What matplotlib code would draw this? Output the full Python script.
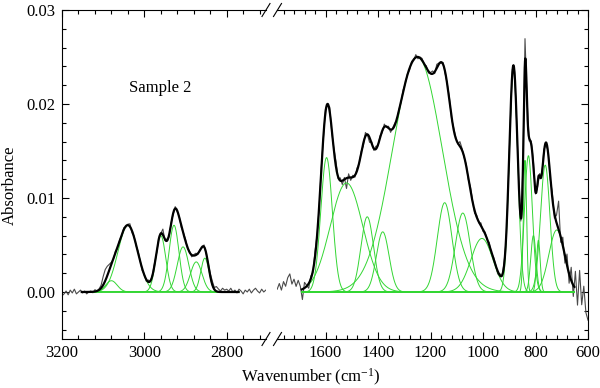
import numpy as np
import matplotlib
matplotlib.use("Agg")
import matplotlib.pyplot as plt
from matplotlib.ticker import MultipleLocator, FormatStrFormatter
from matplotlib.lines import Line2D

plt.rcParams['font.family'] = 'serif'
plt.rcParams['font.serif'] = ['Liberation Serif', 'DejaVu Serif']
plt.rcParams['mathtext.fontset'] = 'custom'
plt.rcParams['mathtext.rm'] = 'Liberation Serif'
plt.rcParams['mathtext.it'] = 'Liberation Serif:italic'

# fitted gaussian bands (centre cm-1, height, sigma cm-1)
ch_center = [3080, 3040, 2960, 2928, 2906, 2874, 2853]
ch_height = [0.0012, 0.0071, 0.0060, 0.0071, 0.0048, 0.0032, 0.0036]
ch_sigma = [14, 24, 12, 12, 14, 14, 10]

fp_center = [1596, 1520, 1441, 1382, 1250, 1146, 1077, 1004,
             884, 840, 827, 808, 789, 763, 719]
fp_height = [0.0143, 0.0116, 0.0080, 0.0064, 0.0250, 0.0095, 0.0084, 0.0057,
             0.0240, 0.0140, 0.0145, 0.0060, 0.0055, 0.0135, 0.0066]
fp_sigma = [22, 62, 24, 24, 95, 28, 28, 42, 16, 6, 15, 10, 7, 18, 30]

ch_range = (3152, 2771)
fp_range = (1690, 652)

ch_step = 5    # 3200 -> 2705
ch_resid = [-4, -2, 1, -3, 2, -1, 3, -2, 0, 2,
            -1, 1, -2, 0, 1, -1, 2, 0, 1, 3,
            9, 12, 10, 6, 2, -1, 2, -2, 1, -1,
            2, -1, 1, 3, -2, 1, -1, 2, 0, -2,
            1, -2, 2, -1, 1, 2, -2, 1, 0, 6,
            -1, 2, -2, 1, -1, 2, -1, 1, -2, 1,
            2, -1, 1, -2, 1, 2, -1, 1, -1, 2,
            -1, 1, 3, 4, 2, 5, 3, 1, 4, 2,
            3, 1, 4, 0, 2, -1, 3, 1, -2, 2,
            0, 3, -1, 2, 4, 1, -1, 3, 0, 2]
fp_step = 8    # 1784 -> 600
fp_resid = [3, 9, 2, 11, 6, 15, 19, 8, 13, 5,
            11, 4, -11, 6, 1, -5, 3, -2, 6, 1,
            -2, 3, -1, 4, -2, 5, -3, 2, 6, -2,
            3, -4, 2, -11, 4, -3, 2, -2, 3, -1,
            2, -3, 4, -1, -5, 2, -2, 3, -1, 2,
            -2, 3, -1, 2, -3, 1, 2, -2, 1, -1,
            2, -1, 1, -2, 2, -1, 3, -2, 1, 2,
            -1, 2, -2, 1, 3, -2, 4, 1, -1, 2,
            -2, 1, 3, -2, 2, 1, -1, 5, 2, -1,
            2, -2, 4, 1, -3, 2, -1, 3, -2, 2,
            -1, 3, -2, 2, 1, -3, 2, -1, 3, -2,
            1, -2, 3, 2, -1, 2, -3, 1, 24, 4,
            -3, 4, 6, -2, -5, 3, -2, 4, -3, 2,
            -4, 6, -5, 8, 30, -6, 9, -8, 12, -10,
            14, -12, 18, -16, 22, -14, 6, -22, -30]


def band(x, c, h, s):
    return h * np.exp(-(x - c) ** 2 / (2.0 * s ** 2))


def fit_sum(x, cs, hs, ss):
    return sum(band(x, c, h, s) for c, h, s in zip(cs, hs, ss))


green = '#33d633'

fig = plt.figure(figsize=(6, 3.88), dpi=100)
ax1 = fig.add_axes([62 / 600, 49 / 388, 204 / 600, 329 / 388])
ax2 = fig.add_axes([277 / 600, 49 / 388, 311 / 600, 329 / 388])

panels = [
    (ax1, ch_center, ch_height, ch_sigma, ch_range, 3200, ch_step, ch_resid),
    (ax2, fp_center, fp_height, fp_sigma, fp_range, 1784, fp_step, fp_resid),
]
for ax, cs, hs, ss, rng, x0, step, resid in panels:
    xg = x0 - step * np.arange(len(resid))
    meas = fit_sum(xg, cs, hs, ss) + np.array(resid) * 1e-4
    ax.plot(xg, meas, color='#4a4a4a', lw=0.8)
    xf = np.arange(rng[0], rng[1] - 1, -1.0)
    for c, h, s in zip(cs, hs, ss):
        ax.plot(xf, band(xf, c, h, s), color=green, lw=0.7)
    ax.plot(xf, fit_sum(xf, cs, hs, ss), color='black', lw=1.6)

ax1.set_xlim(3200, 2704.5)
ax2.set_xlim(1784.8, 600)
for ax in (ax1, ax2):
    ax.set_ylim(-0.005, 0.03)
    ax.xaxis.set_major_locator(MultipleLocator(200))
    ax.xaxis.set_minor_locator(MultipleLocator(40))
    ax.yaxis.set_major_locator(MultipleLocator(0.01))
    ax.yaxis.set_minor_locator(MultipleLocator(0.002))
    ax.tick_params(which='both', direction='in', top=True, labelsize=12, width=0.8)
    ax.tick_params(which='major', length=5)
    ax.tick_params(which='minor', length=3)
    ax.tick_params(axis='x', pad=4)
    ax.tick_params(axis='y', pad=5)
    for sp in ax.spines.values():
        sp.set_linewidth(0.8)

ax1.spines['right'].set_visible(False)
ax1.tick_params(which='both', right=False)
ax1.yaxis.set_major_formatter(FormatStrFormatter('%.2f'))
ax2.spines['left'].set_visible(False)
ax2.tick_params(which='both', left=False, right=True, labelleft=False)

ax1.text(3037, 0.0217, 'Sample 2', fontsize=12, ha='left', va='center')

# break marks
for yc in (10, 339):
    for xc in (266, 277.5):
        fig.add_artist(Line2D([(xc - 4) / 600, (xc + 4) / 600],
                              [1 - (yc + 6.5) / 388, 1 - (yc - 6.5) / 388],
                              color='black', lw=0.8))

fig.text(10 / 600, 1 - 185 / 388, 'Absorbance', rotation=90, fontsize=12,
         ha='center', va='center')
fig.text(311 / 600, 11 / 388, 'Wavenumber (cm$^{-1}$)', fontsize=12,
         ha='center', va='center')

fig.savefig('out.png', dpi=100)
